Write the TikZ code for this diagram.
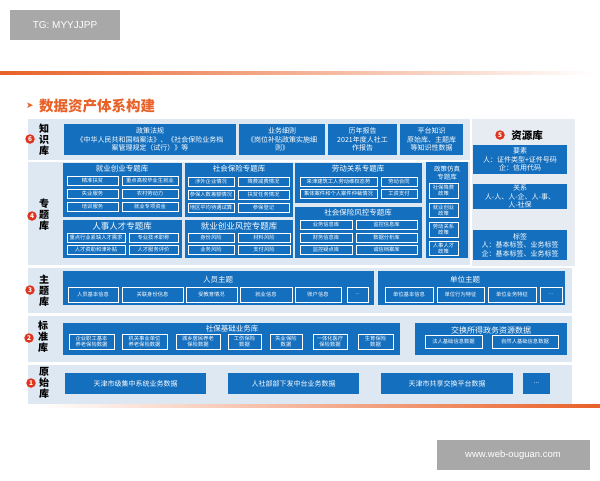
\documentclass[tikz,border=0pt]{standalone}
\usepackage{fontspec}
\setmainfont{Noto Sans CJK SC}
\newfontfamily\latinfont{Liberation Sans}
\newfontfamily\symfont{DejaVu Sans}
\usetikzlibrary{positioning}

\definecolor{panelblue}{RGB}{20,111,190}
\definecolor{rowgrey}{RGB}{222,232,243}
\definecolor{resgrey}{RGB}{231,236,242}
\definecolor{brandorange}{RGB}{232,97,40}
\definecolor{markred}{RGB}{222,52,30}
\definecolor{tagfill}{RGB}{168,168,168}

\begin{document}
\begin{tikzpicture}[
    x=1pt,
    y=-1pt,
    rowbg/.style={
      fill=rowgrey,
      inner sep=0,
      outer sep=0,
    },
    resbg/.style={
      fill=resgrey,
      inner sep=0,
      outer sep=0,
    },
    panel/.style={
      fill=panelblue,
      inner sep=0,
      outer sep=0,
    },
    cellbox/.style={
      draw=white,
      line width=.5pt,
      fill=panelblue,
      text=white,
      inner sep=0,
      align=center,
      font=\fontsize{5.3}{6}\selectfont,
    },
    knowbox/.style={
      fill=panelblue,
      text=white,
      inner sep=0,
      align=center,
      font=\fontsize{7}{8.5}\selectfont,
    },
    rawbox/.style={
      fill=panelblue,
      text=white,
      inner sep=0,
      font=\fontsize{7}{8}\selectfont,
    },
    paneltitle/.style={
      text=white,
      inner sep=0,
      align=center,
      font=\fontsize{7.5}{8}\selectfont,
    },
    rowlabel/.style={
      inner sep=0,
      align=center,
      font=\bfseries\fontsize{10}{11}\selectfont,
    },
    numdot/.style={
      circle,
      fill=markred,
      text=white,
      inner sep=0,
      minimum size=9.5pt,
      font=\bfseries\fontsize{6.5}{6.5}\selectfont,
    },
    greybox/.style={
      fill=tagfill,
      text=white,
      inner sep=0,
      font=\latinfont\fontsize{10}{10}\selectfont,
    },
  ]
    \newcommand\blk[7][cellbox]{%
      \pgfmathsetmacro\blkx{(#3+#5)/2}%
      \pgfmathsetmacro\blky{(#4+#6)/2}%
      \pgfmathsetmacro\blkw{#5-#3}%
      \pgfmathsetmacro\blkh{#6-#4}%
      \node[#1, minimum width=\blkw pt, minimum height=\blkh pt] (#2) at (\blkx,\blky) {#7};
    }
    \useasboundingbox (0,0) rectangle (600,480);

    % header
    \node[greybox, minimum width=110pt, minimum height=30pt] (tg) at (65,25) {TG: MYYJJPP};
    \shade[left color=brandorange, right color=white] (0,71) rectangle (595,74);
    \node[inner sep=0, text=brandorange, font=\symfont\fontsize{9}{9}\selectfont] (arrowmark) at (30,106) {➤};
    \node[inner sep=0, anchor=west, text=brandorange, font=\bfseries\fontsize{14.5}{15}\selectfont] (pagetitle) at (39,106) {数据资产体系构建};

    % row backgrounds
    \blk[rowbg]{bg6}{28}{119}{470}{160}{}
    \blk[rowbg]{bg4}{28}{162}{470}{265}{}
    \blk[resbg]{bg5}{472}{119}{575}{266}{}
    \blk[rowbg]{bg3}{28}{268}{572}{313}{}
    \blk[rowbg]{bg2}{28}{316}{572}{362}{}
    \blk[rowbg]{bg1}{28}{365}{572}{404}{}

    % row labels
    \node[rowlabel] (lab6) at (44,140) {知\\识\\库};
    \node[numdot] (num6) at (30,139) {6};
    \node[rowlabel] (lab4) at (44,215) {专\\题\\库};
    \node[numdot] (num4) at (32,216) {4};
    \node[rowlabel] (lab3) at (44,291) {主\\题\\库};
    \node[numdot] (num3) at (30,290) {3};
    \node[rowlabel] (lab2) at (43,337) {标\\准\\库};
    \node[numdot] (num2) at (29,338) {2};
    \node[rowlabel] (lab1) at (44,383) {原\\始\\库};
    \node[numdot] (num1) at (31,383) {1};

    % 6 knowledge
    \blk[knowbox]{law}{64}{124}{236}{155}{政策法规\\《中华人民共和国档案法》、《社会保险业务档\\案管理规定（试行）》等}
    \blk[knowbox]{detail}{239}{124}{325}{155}{业务细则\\《岗位补贴政策实施细\\则》}
    \blk[knowbox]{report}{328}{124}{397}{155}{历年报告\\2021年度人社工\\作报告}
    \blk[knowbox]{platform}{400}{124}{463}{155}{平台知识\\原始库、主题库\\等知识性数据}

    % 5 resources
    \node[numdot] (num5) at (500,135) {5};
    \node[rowlabel, font=\bfseries\fontsize{10.5}{11}\selectfont] (restitle) at (527,135) {资源库};
    \blk[knowbox]{element}{473}{145}{567}{174}{要素\\人：证件类型+证件号码\\企：信用代码}
    \blk[knowbox]{relation}{473}{184}{567}{209}{关系\\人-人、人-企、人-事、\\人-社保}
    \blk[knowbox]{tagset}{473}{230}{567}{260}{标签\\人：基本标签、业务标签\\企：基本标签、业务标签}

    % 4 topics
    \blk[panel]{jobpanel}{63}{163}{182}{217}{}
    \node[paneltitle] (jobtitle) at (122,169) {就业创业专题库};
    \blk{job1}{67}{176}{118}{185}{精准扶贫}
    \blk{job2}{122}{176}{178}{185}{重点高校毕业生就业}
    \blk{job3}{67}{189}{118}{198}{失业服务}
    \blk{job4}{122}{189}{178}{198}{农村劳动力}
    \blk{job5}{67}{202}{118}{211}{培训服务}
    \blk{job6}{122}{202}{178}{211}{就业专项资金}

    \blk[panel]{talentpanel}{63}{220}{182}{258}{}
    \node[paneltitle, font=\fontsize{8.5}{9}\selectfont] (talenttitle) at (122,226) {人事人才专题库};
    \blk{talent1}{67}{233}{125}{242}{重点行业紧缺人才需求}
    \blk{talent2}{129}{233}{178}{242}{专业技术职称}
    \blk{talent3}{67}{245}{125}{254}{人才资助和津补贴}
    \blk{talent4}{129}{245}{178}{254}{人才服务评价}

    \blk[panel]{insurpanel}{185}{163}{293}{217}{}
    \node[paneltitle] (insurtitle) at (239,169) {社会保险专题库};
    \blk{insur1}{188}{177}{234}{186}{涉外企业情况}
    \blk{insur2}{238}{177}{289}{186}{降费减费情况}
    \blk{insur3}{188}{190}{234}{199}{参保人数差额情况}
    \blk{insur4}{238}{190}{289}{199}{扶贫任务情况}
    \blk{insur5}{188}{203}{234}{212}{地区平均待遇试算}
    \blk{insur6}{238}{203}{289}{212}{参保登记}

    \blk[panel]{jobriskpanel}{185}{220}{293}{258}{}
    \node[paneltitle, font=\fontsize{8.5}{9}\selectfont] (jobrisktitle) at (239,226) {就业创业风控专题库};
    \blk{jobrisk1}{188}{233}{234}{242}{身份风险}
    \blk{jobrisk2}{238}{233}{290}{242}{材料风险}
    \blk{jobrisk3}{188}{245}{234}{254}{业务风险}
    \blk{jobrisk4}{238}{245}{290}{254}{支付风险}

    \blk[panel]{laborpanel}{295}{163}{422}{203}{}
    \node[paneltitle] (labortitle) at (358,169) {劳动关系专题库};
    \blk{labor1}{300}{177}{377}{186}{来津建筑工人劳动维权态势}
    \blk{labor2}{381}{177}{417}{186}{劳动合同}
    \blk{labor3}{300}{189}{377}{198}{集体案件和个人案件仲裁情况}
    \blk{labor4}{381}{189}{417}{198}{工资支付}

    \blk[panel]{riskpanel}{295}{207}{422}{258}{}
    \node[paneltitle] (risktitle) at (358,213) {社会保险风控专题库};
    \blk{risk1}{300}{220}{352}{229}{业务信息库}
    \blk{risk2}{356}{220}{417}{229}{监控信息库}
    \blk{risk3}{300}{233}{352}{242}{财务信息库}
    \blk{risk4}{356}{233}{417}{242}{数据分析库}
    \blk{risk5}{300}{245}{352}{254}{监控疑点库}
    \blk{risk6}{356}{245}{417}{254}{诚信档案库}

    \blk[panel]{simpanel}{426}{162}{468}{258}{}
    \node[paneltitle, font=\fontsize{6.5}{7.5}\selectfont] (simtitle) at (447,173) {政策仿真\\专题库};
    \blk{sim1}{429}{183}{458}{198}{社保降费\\政策}
    \blk{sim2}{429}{203}{458}{217}{就业创业\\政策}
    \blk{sim3}{429}{222}{458}{237}{劳动关系\\政策}
    \blk{sim4}{429}{241}{458}{255}{人事人才\\政策}

    % 3 themes
    \blk[panel]{personpanel}{63}{271}{374}{305}{}
    \node[paneltitle] (persontitle) at (218,280) {人员主题};
    \blk{person1}{68}{287}{118}{302}{人员基本信息}
    \blk{person2}{122}{287}{183}{302}{关联身份信息}
    \blk{person3}{186}{287}{237}{302}{受教育情况}
    \blk{person4}{240}{287}{292}{302}{就业信息}
    \blk{person5}{295}{287}{341}{302}{账户信息}
    \blk{person6}{347}{287}{368}{302}{...}

    \blk[panel]{unitpanel}{378}{271}{565}{305}{}
    \node[paneltitle] (unittitle) at (465,280) {单位主题};
    \blk{unit1}{385}{287}{433}{302}{单位基本信息}
    \blk{unit2}{437}{287}{484}{302}{单位行为特征}
    \blk{unit3}{488}{287}{536}{302}{单位业务特征}
    \blk{unit4}{540}{287}{562}{302}{...}

    % 2 standard
    \blk[panel]{basepanel}{63}{323}{400}{355}{}
    \node[paneltitle] (basetitle) at (232,329) {社保基础业务库};
    \blk{base1}{69}{334}{114}{349}{企业职工基本\\养老保险数据}
    \blk{base2}{122}{334}{167}{349}{机关事业单位\\养老保险数据}
    \blk{base3}{176}{334}{220}{349}{城乡居民养老\\保险数据}
    \blk{base4}{228}{334}{261}{349}{工伤保险\\数据}
    \blk{base5}{270}{334}{302}{349}{失业保险\\数据}
    \blk{base6}{313}{334}{347}{349}{一体化医疗\\保险数据}
    \blk{base7}{358}{334}{393}{349}{生育保险\\数据}

    \blk[panel]{govpanel}{415}{323}{567}{355}{}
    \node[paneltitle, font=\fontsize{8}{8}\selectfont] (govtitle) at (491,330) {交换所得政务资源数据};
    \blk{gov1}{425}{335}{482}{348}{法人基础信息数据}
    \blk{gov2}{492}{335}{558}{348}{自然人基础信息数据}

    % 1 raw
    \blk[rawbox]{raw1}{65}{373}{206}{394}{天津市级集中系统业务数据}
    \blk[rawbox]{raw2}{228}{373}{359}{394}{人社部部下发中台业务数据}
    \blk[rawbox]{raw3}{381}{373}{513}{394}{天津市共享交换平台数据}
    \blk[rawbox]{raw4}{523}{373}{550}{394}{...}

    % footer
    \shade[left color=white, right color=brandorange] (40,404) rectangle (600,407);
    \node[greybox, minimum width=153pt, minimum height=30pt, font=\latinfont\fontsize{9.5}{10}\selectfont] (site) at (513,455) {www.web-ouguan.com};
  \end{tikzpicture}
\end{document}
